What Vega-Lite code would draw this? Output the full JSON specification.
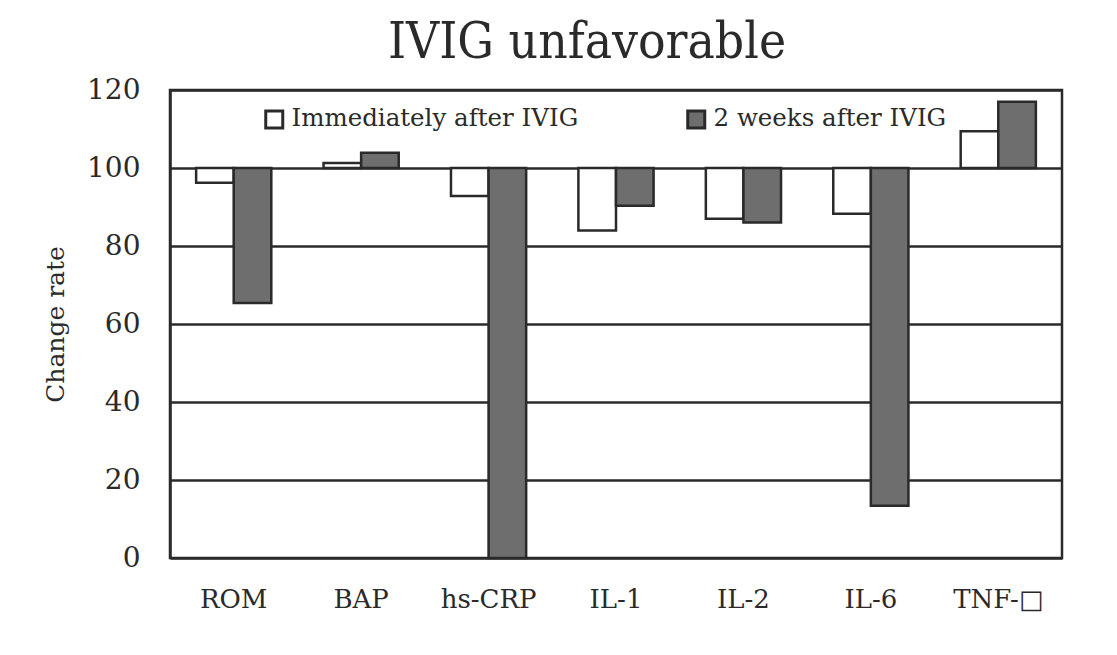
{
  "$schema": "https://vega.github.io/schema/vega-lite/v6.json",
  "width": 892,
  "height": 468,
  "autosize": "none",
  "padding": {"left": 170, "top": 90, "right": 55, "bottom": 97},
  "background": "white",
  "title": {
    "text": "IVIG unfavorable",
    "font": "DejaVu Serif Condensed",
    "fontSize": 51,
    "fontWeight": "normal",
    "color": "#2a2a2a",
    "anchor": "middle",
    "dx": -29,
    "offset": 7
  },
  "data": {
    "values": [
      {"marker": "ROM", "timing": "Immediately after IVIG", "value": 96.2},
      {"marker": "ROM", "timing": "2 weeks after IVIG", "value": 65.4},
      {"marker": "BAP", "timing": "Immediately after IVIG", "value": 101.3},
      {"marker": "BAP", "timing": "2 weeks after IVIG", "value": 103.9},
      {"marker": "hs-CRP", "timing": "Immediately after IVIG", "value": 92.8},
      {"marker": "hs-CRP", "timing": "2 weeks after IVIG", "value": 0},
      {"marker": "IL-1", "timing": "Immediately after IVIG", "value": 84.0},
      {"marker": "IL-1", "timing": "2 weeks after IVIG", "value": 90.3},
      {"marker": "IL-2", "timing": "Immediately after IVIG", "value": 87.0},
      {"marker": "IL-2", "timing": "2 weeks after IVIG", "value": 86.0},
      {"marker": "IL-6", "timing": "Immediately after IVIG", "value": 88.3},
      {"marker": "IL-6", "timing": "2 weeks after IVIG", "value": 13.4},
      {"marker": "TNF-□", "timing": "Immediately after IVIG", "value": 109.4},
      {"marker": "TNF-□", "timing": "2 weeks after IVIG", "value": 117.0}
    ]
  },
  "mark": {"type": "bar", "stroke": "#2a2a2a", "strokeWidth": 2.5},
  "encoding": {
    "x": {
      "field": "marker",
      "type": "nominal",
      "sort": null,
      "scale": {"paddingInner": 0.41, "paddingOuter": 0.205},
      "axis": {
        "title": null,
        "labelAngle": 0,
        "labelFont": "DejaVu Serif",
        "labelFontSize": 26,
        "labelColor": "#2a2a2a",
        "labelPadding": 28,
        "labelDx": -4,
        "ticks": false,
        "domain": false
      }
    },
    "xOffset": {
      "field": "timing",
      "type": "nominal",
      "sort": ["Immediately after IVIG", "2 weeks after IVIG"],
      "scale": {"paddingInner": 0, "paddingOuter": 0}
    },
    "y": {
      "field": "value",
      "type": "quantitative",
      "scale": {"domain": [0, 120]},
      "axis": {
        "values": [0, 20, 40, 60, 80, 100, 120],
        "title": "Change rate",
        "titleFont": "DejaVu Serif",
        "titleFontSize": 25,
        "titleFontWeight": "normal",
        "titleColor": "#2a2a2a",
        "titlePadding": 18,
        "labelFont": "DejaVu Serif",
        "labelFontSize": 28,
        "labelColor": "#2a2a2a",
        "labelPadding": 30,
        "ticks": false,
        "grid": true,
        "gridColor": "#2a2a2a",
        "gridWidth": 2.5,
        "domain": true,
        "domainColor": "#2a2a2a",
        "domainWidth": 2.5
      }
    },
    "y2": {"datum": 100},
    "color": {
      "field": "timing",
      "type": "nominal",
      "sort": ["Immediately after IVIG", "2 weeks after IVIG"],
      "scale": {"domain": ["Immediately after IVIG", "2 weeks after IVIG"], "range": ["#ffffff", "#6e6e6e"]},
      "legend": {
        "orient": "none",
        "legendX": 92,
        "legendY": 17,
        "direction": "horizontal",
        "title": null,
        "symbolType": "square",
        "symbolSize": 289,
        "symbolStrokeColor": "#2a2a2a",
        "symbolStrokeWidth": 3,
        "labelFont": "DejaVu Serif",
        "labelFontSize": 24.5,
        "labelColor": "#2a2a2a",
        "labelOffset": 5,
        "labelLimit": 400,
        "columnPadding": 102
      }
    }
  },
  "config": {
    "view": {"stroke": "#2a2a2a", "strokeWidth": 2.5}
  }
}
